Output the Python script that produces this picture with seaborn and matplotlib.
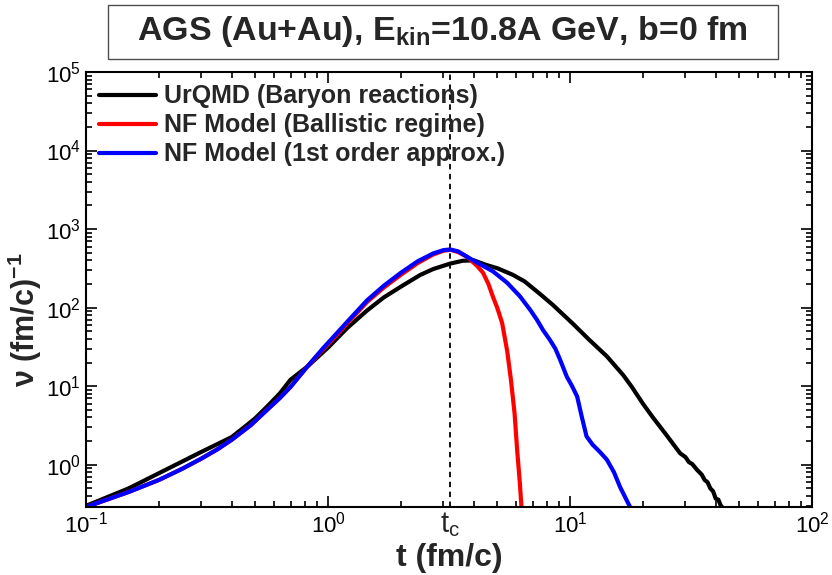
import numpy as np
import pandas as pd
import seaborn as sns
import matplotlib.pyplot as plt
from matplotlib.patches import Rectangle
from matplotlib.ticker import LogLocator, NullFormatter
import matplotlib.transforms as mtransforms

# --------------------- data ---------------------
t_urqmd = [0.1, 0.15, 0.2, 0.3, 0.4, 0.45, 0.5, 0.56, 0.63, 0.7, 0.82, 0.9, 1.0, 1.2,
           1.45, 1.7, 2.0, 2.4, 2.72, 3.2, 3.6, 4.0, 4.5, 5.0, 5.8, 6.5, 7.5, 8.5,
           10.3, 12, 14.2, 16.6, 18, 20, 22, 25, 28.5, 30, 31, 32, 33.5, 35, 36, 37,
           38, 39, 40, 41, 42, 42.5]
v_urqmd = [0.30, 0.50, 0.78, 1.46, 2.25, 3.0, 3.9, 5.5, 8.0, 12.1, 17.7, 23, 31, 55,
           92, 135, 185, 260, 310, 364, 395, 400, 350, 318, 262, 215, 150, 108,
           62, 39, 24, 13.8, 9.8, 6.0, 4.0, 2.4, 1.4, 1.25, 1.08, 1.02, 0.86, 0.75,
           0.64, 0.6, 0.5, 0.46, 0.37, 0.36, 0.3, 0.29]

t_ballistic = [0.1, 0.15, 0.2, 0.25, 0.3, 0.35, 0.4, 0.48, 0.56, 0.63, 0.7, 0.82, 0.95,
               1.05, 1.2, 1.45, 1.7, 2.0, 2.35, 2.72, 3.0, 3.2, 3.45, 3.75, 4.13, 4.37,
               4.6, 4.8, 5.0, 5.24, 5.5, 5.7, 5.9, 6.05, 6.2, 6.3]
v_ballistic = [0.29, 0.45, 0.64, 0.89, 1.2, 1.58, 2.08, 3.2, 5.0, 7.0, 9.8, 17.7, 29,
               40, 63, 118, 180, 262, 370, 475, 530, 545, 510, 445, 340, 278,
               200, 138, 100, 64, 28, 12, 4.5, 1.5, 0.6, 0.29]

t_first = [0.1, 0.15, 0.2, 0.25, 0.3, 0.35, 0.4, 0.48, 0.56, 0.63, 0.7, 0.82, 0.95,
           1.05, 1.2, 1.45, 1.7, 2.0, 2.35, 2.72, 3.0, 3.2, 3.45, 3.75, 4.13, 4.8,
           5.5, 6.2, 6.84, 7.3, 7.73, 8.25, 8.7, 9.1, 9.7, 10.2, 10.7, 11.2, 11.7,
           12.4, 13.3, 14.2, 15.2, 16.1, 17.7]
v_first = [0.29, 0.45, 0.64, 0.89, 1.2, 1.58, 2.08, 3.2, 5.0, 7.0, 9.8, 17.7, 30,
           42, 66, 124, 190, 278, 390, 490, 540, 550, 520, 445, 375, 290,
           207, 140, 94, 70, 52, 39, 30, 21.7, 13.2, 10, 7.4, 4.0, 2.3,
           1.8, 1.45, 1.16, 0.8, 0.52, 0.29]

labels = ["UrQMD (Baryon reactions)", "NF Model (Ballistic regime)",
          "NF Model (1st order approx.)"]
colors = ["black", "red", "blue"]
t_c = 3.2

df = pd.concat([
    pd.DataFrame({"t": t_urqmd, "v": v_urqmd, "model": labels[0]}),
    pd.DataFrame({"t": t_ballistic, "v": v_ballistic, "model": labels[1]}),
    pd.DataFrame({"t": t_first, "v": v_first, "model": labels[2]}),
], ignore_index=True)

# --------------------- plot ---------------------
sns.set_style("ticks")
plt.rcParams["font.family"] = ["Liberation Sans", "DejaVu Sans"]
plt.rcParams["mathtext.default"] = "regular"

fig = plt.figure(figsize=(8.32, 5.75), dpi=100)
ax = fig.add_axes([0.1034, 0.1183, 0.8726, 0.7565])

sns.lineplot(data=df, x="t", y="v", hue="model", palette=dict(zip(labels, colors)),
             sort=False, estimator=None, linewidth=3, ax=ax)

ax.axvline(t_c, color="black", linestyle=(0, (3, 2.5)), linewidth=1.3, zorder=0)

ax.set_xscale("log")
ax.set_yscale("log")
ax.set_xlim(0.1, 100)
ax.set_ylim(0.29, 1e5)
ax.yaxis.set_minor_locator(LogLocator(base=10, subs=np.arange(2, 10), numticks=20))
ax.yaxis.set_minor_formatter(NullFormatter())

ax.tick_params(which="both", direction="in", top=True, right=True, labelsize=16,
               width=1.2, colors="black")
ax.tick_params(which="major", length=8)
ax.tick_params(which="minor", length=4)
for s in ax.spines.values():
    s.set_linewidth(1.5)
    s.set_color("black")

ax.set_xlabel("t (fm/c)", fontsize=23, fontweight="bold")
ax.xaxis.set_label_coords(0.5, -0.082)
ax.set_ylabel(r"$\nu$ (fm/c)$^{-1}$", fontsize=22, fontweight="bold")
ax.yaxis.set_label_coords(-0.058, 0.43)

# t_c marker under the axis
trans = mtransforms.blended_transform_factory(ax.transData, ax.transAxes)
ax.text(t_c, -0.008, r"$t_c$", transform=trans, ha="center", va="top", fontsize=21)

leg = ax.legend(loc="upper left", frameon=False, fontsize=18, handlelength=2.3,
                handletextpad=0.3, borderaxespad=0.2, labelspacing=0.2,
                borderpad=0.3)
for txt in leg.get_texts():
    txt.set_fontweight("bold")
for line in leg.get_lines():
    line.set_linewidth(3)

# boxed title
fig.patches.append(Rectangle((0.130, 0.897), 0.805, 0.095, transform=fig.transFigure,
                             facecolor="white", edgecolor="0.3", linewidth=1))
fig.text(0.532, 0.946, r"AGS (Au+Au), E$_{kin}$=10.8A GeV, b=0 fm", ha="center",
         va="center", fontsize=24.5, fontweight="bold")

plt.savefig("out.png", dpi=100)
